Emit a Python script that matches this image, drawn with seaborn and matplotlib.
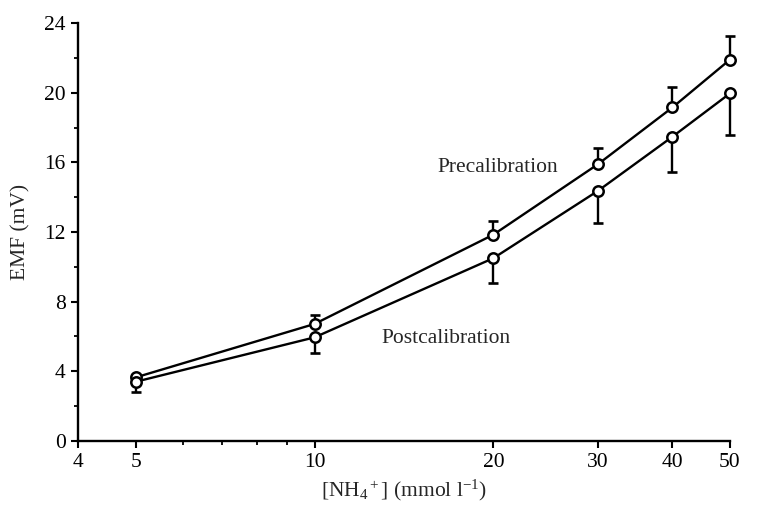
import numpy as np
import pandas as pd
import matplotlib
matplotlib.use("Agg")
import matplotlib.pyplot as plt
import seaborn as sns
from matplotlib.ticker import FixedLocator, FixedFormatter, NullFormatter

# ---- data ----
conc = [5, 10, 20, 30, 40, 50]
pre_emf = [3.65, 6.72, 11.85, 15.9, 19.15, 21.9]
pre_err = [0.0, 0.5, 0.8, 0.9, 1.15, 1.35]
post_emf = [3.4, 5.95, 10.5, 14.37, 17.47, 19.96]
post_err = [0.6, 0.9, 1.45, 1.85, 2.05, 2.4]
x_ticks = [4, 5, 10, 20, 30, 40, 50]
y_ticks = [0, 4, 8, 12, 16, 20, 24]

sns.set_style("ticks")
plt.rcParams["font.family"] = ["Liberation Serif", "DejaVu Serif"]
plt.rcParams["mathtext.fontset"] = "custom"
plt.rcParams["mathtext.rm"] = "Liberation Serif"
plt.rcParams["mathtext.it"] = "Liberation Serif:italic"
plt.rcParams["mathtext.default"] = "regular"

df = pd.DataFrame({
    "conc": conc * 2,
    "emf": pre_emf + post_emf,
    "series": ["Precalibration"] * len(conc) + ["Postcalibration"] * len(conc),
})

FS = 15.5

fig = plt.figure(figsize=(7.62, 5.07), dpi=100)
ax = fig.add_axes([0.1024, 0.1302, 0.8556, 0.8244])

# one-sided error bars: pre upward, post downward
for yv, err in [(pre_emf, [np.zeros(len(conc)), pre_err]),
                (post_emf, [post_err, np.zeros(len(conc))])]:
    eb = ax.errorbar(conc, yv, yerr=err, fmt="none", ecolor="black",
                     elinewidth=1.7, capsize=3.5, capthick=1.9, zorder=2)
    for art in list(eb.lines[1]) + list(eb.lines[2]):
        art.set_clip_on(False)

sns.lineplot(data=df, x="conc", y="emf", hue="series",
             palette={"Precalibration": "black", "Postcalibration": "black"},
             marker="o", markersize=7.5, markerfacecolor="white",
             markeredgecolor="black", markeredgewidth=1.8, linewidth=1.7,
             legend=False, ax=ax, zorder=3)
for ln in ax.lines:
    ln.set_clip_on(False)

ax.set_xscale("log")
ax.set_xlim(4, 50)
ax.set_ylim(0, 24)
ax.xaxis.set_major_locator(FixedLocator(x_ticks))
ax.xaxis.set_major_formatter(FixedFormatter([str(t) for t in x_ticks]))
ax.xaxis.set_minor_locator(FixedLocator([6, 7, 8, 9]))
ax.xaxis.set_minor_formatter(NullFormatter())
ax.yaxis.set_major_locator(FixedLocator(y_ticks))
ax.yaxis.set_minor_locator(FixedLocator([2, 6, 10, 14, 18, 22]))

for s in ["top", "right"]:
    ax.spines[s].set_visible(False)
for s in ["left", "bottom"]:
    ax.spines[s].set_linewidth(1.7)
    ax.spines[s].set_color("black")

ax.tick_params(axis="both", which="major", direction="out", length=5, width=1.5,
               labelsize=FS, colors="black", pad=4)
ax.tick_params(axis="both", which="minor", direction="out", length=3, width=1.3,
               colors="black")

ax.set_xlabel(r"[NH$_4$$^+$] (mmol l$^{-1}$)", fontsize=FS, labelpad=4)
ax.set_ylabel("EMF (mV)", fontsize=FS, labelpad=10)

ax.annotate("Precalibration", xy=(0.551, 0.655), xycoords="axes fraction",
            fontsize=FS, ha="left", va="center")
ax.annotate("Postcalibration", xy=(0.466, 0.245), xycoords="axes fraction",
            fontsize=FS, ha="left", va="center")

fig.savefig("out.png", dpi=100, facecolor="white")
